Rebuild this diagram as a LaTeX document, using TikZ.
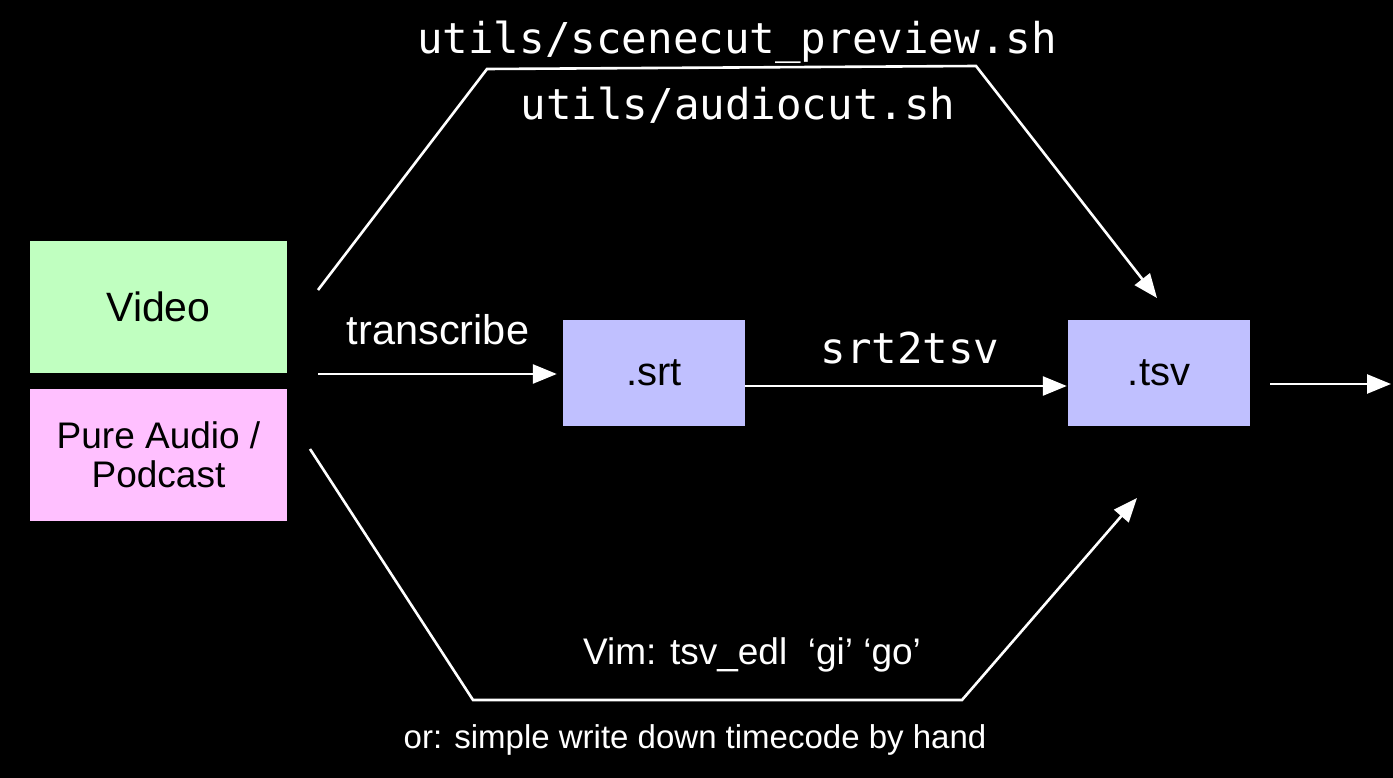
\documentclass[tikz,border=0pt]{standalone}
\usepackage{fontspec}
\setmainfont{Liberation Sans}
\newfontfamily\codefont{DejaVu Sans Mono}
\usetikzlibrary{arrows.meta}
\definecolor{videogreen}{HTML}{C0FFC0}
\definecolor{audiopink}{HTML}{FFC0FF}
\definecolor{fileblue}{HTML}{C0C0FF}
\tikzset{
  source/.style={draw=none,minimum width=257pt,minimum height=132pt,inner sep=0pt,
    text=black,align=center},
  filebox/.style={draw=none,fill=fileblue,minimum width=182pt,minimum height=106pt,
    inner sep=0pt,text=black,font=\fontsize{40}{48}\selectfont},
  conn/.style={draw=white,line width=2.6pt,line join=miter,
    -{Triangle[length=24pt,width=19pt]}},
  lbl/.style={text=white,inner sep=0pt,font=\fontsize{41.5}{48}\selectfont},
  code/.style={text=white,inner sep=0pt,font=\codefont\fontsize{42.5}{50}\selectfont},
}
\begin{document}
\begin{tikzpicture}[x=1pt,y=-1pt]
\fill[black] (0,0) rectangle (1393,778);
\useasboundingbox (0,0) rectangle (1393,778);

% inputs
\node[source,fill=videogreen,font=\fontsize{41}{48}\selectfont] (video) at (158.5,307) {Video};
\node[source,fill=audiopink,font=\fontsize{37}{39}\selectfont] (audio) at (158.5,455) {Pure Audio /\\Podcast};

% intermediate files
\node[filebox] (srt) at (654,373) {.srt};
\node[filebox] (tsv) at (1159,373) {.tsv};

% free ends of the connectors
\coordinate (topstart) at (318,290);
\coordinate (topleft) at (487,69);
\coordinate (topright) at (976,66);
\coordinate (topend) at (1157,298);
\coordinate (botstart) at (310,449);
\coordinate (botleft) at (473,700);
\coordinate (botright) at (962,700);
\coordinate (botend) at (1137,498);
\coordinate (trstart) at (318,374);
\coordinate (outstart) at (1270,384);
\coordinate (outend) at (1391,384);

% connectors
\draw[conn] (topstart) -- (topleft) -- (topright) -- (topend);
\draw[conn] (botstart) -- (botleft) -- (botright) -- (botend);
\draw[conn,shorten >=6pt] (trstart) -- (trstart -| srt.west);
\draw[conn,shorten >=1pt] (srt.east |- 0,386) -- (tsv.west |- 0,386);
\draw[conn] (outstart) -- (outend);

% labels
\node[code] (scenecut) at (737,42) {utils/scenecut\_preview.sh};
\node[code] (audiocut) at (738,105) {utils/audiocut.sh};
\node[code] (srt2tsv) at (910,348) {srt2tsv};
\node[lbl] (transcribe) at (438,330) {transcribe};
\node[lbl,font=\fontsize{37}{44}\selectfont] (vim) at (752,655) {Vim: tsv\_edl\ \ ‘gi’ ‘go’};
\node[lbl,font=\fontsize{33}{40}\selectfont] (byhand) at (695,740) {or: simple write down timecode by hand};
\end{tikzpicture}
\end{document}
